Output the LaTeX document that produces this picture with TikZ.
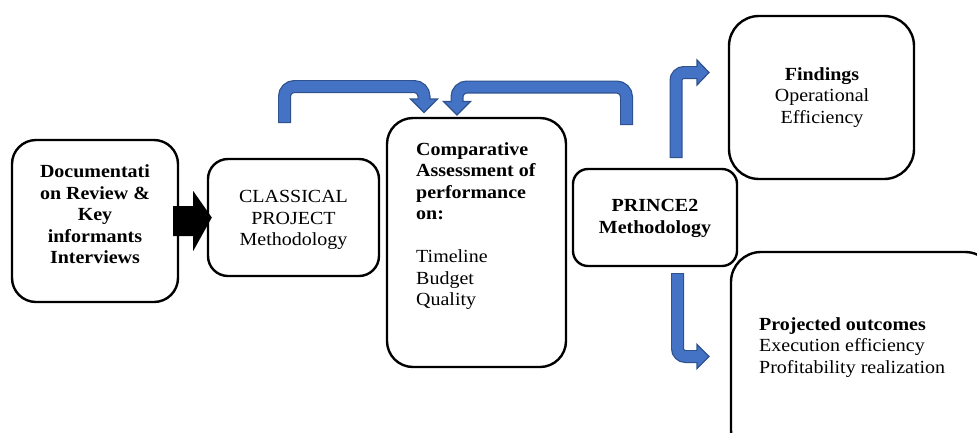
\documentclass[tikz,border=0pt]{standalone}
\usepackage{fontspec}
\setmainfont[FakeStretch=1.08]{Liberation Serif}
\usetikzlibrary{calc}
\definecolor{arrowblue}{HTML}{4472C4}
\definecolor{arrowedge}{HTML}{2F528F}
\tikzset{
  box/.style={draw=black, line width=2.4pt, inner sep=0pt, fill=white},
  txt/.style={inner sep=0pt, font=\fontsize{18.5}{21.5}\selectfont},
  shaftout/.style={draw=arrowedge, line width=13pt},
  shaftin/.style={draw=arrowblue, line width=10.6pt, shorten <=1.2pt},
  headst/.style={fill=arrowblue, draw=arrowedge, line width=1.2pt, line join=miter},
}
\begin{document}
\begin{tikzpicture}[x=1pt, y=-1pt]
\clip (0,0) rectangle (977,432);
\fill[white] (0,0) rectangle (977,432);

% boxes
\node[box, minimum width=166pt, minimum height=162pt, rounded corners=24pt] (A) at (95,221) {};
\node[box, minimum width=171pt, minimum height=117pt, rounded corners=20pt] (B) at (293.5,217.5) {};
\node[box, minimum width=179pt, minimum height=249pt, rounded corners=26pt] (C) at (476.5,242.5) {};
\node[box, minimum width=164pt, minimum height=97pt, rounded corners=15pt] (D) at (655,217.5) {};
\node[box, minimum width=185pt, minimum height=163pt, rounded corners=30pt] (E) at (821.5,97.5) {};
\node[box, minimum width=264pt, minimum height=208pt, rounded corners=30pt] (F) at (863,356) {};

% texts
\node[txt, align=center, font=\fontsize{18.5}{21.5}\selectfont\bfseries] (At) at (A.center) [yshift=6.5pt] {Documentati\\on Review \&\\Key\\informants\\Interviews};
\node[txt, align=center] (Bt) at (B.center) [yshift=-2.5pt] {CLASSICAL\\PROJECT\\Methodology};
\node[txt, align=left, anchor=north west] (Ct) at (416,142) {\textbf{Comparative}\\\textbf{Assessment of}\\\textbf{performance}\\\textbf{on:}\\[21.5pt]Timeline\\Budget\\Quality};
\node[txt, align=center, font=\fontsize{18.5}{21.5}\selectfont\bfseries] (Dt) at (D.center) [yshift=-1pt] {PRINCE2\\Methodology};
\node[txt, align=center] (Et) at (822,97.5) {\textbf{Findings}\\Operational\\Efficiency};
\node[txt, align=left, anchor=north west] (Ft) at (759,317) {\textbf{Projected outcomes}\\Execution efficiency\\Profitability realization};

% black arrow A -> B
\fill[black] ($(A.east)+(-6,-15)$) -- ($(A.east)+(14,-15)$) -- ($(A.east)+(14,-30)$)
  -- ($(B.west)+(5,0)$) -- ($(A.east)+(14,30)$) -- ($(A.east)+(14,15)$)
  -- ($(A.east)+(-6,15)$) -- cycle;

% blue arrows
\coordinate (L0) at (284.5,123);
\coordinate (L1) at (424,101);
\coordinate (R0) at (626.5,125);
\coordinate (R1) at (457,103);
\coordinate (T0) at (676,158);
\coordinate (T1) at (698,72.5);
\coordinate (S0) at (677.5,273);
\coordinate (S1) at (698,356.5);

\draw[shaftout, rounded corners=10pt] (L0) -- (284.5,86.5) -- (424,86.5) -- (L1);
\draw[shaftout, rounded corners=10pt] (R0) -- (626.5,87) -- (457,87) -- (R1);
\draw[shaftout, rounded corners=8pt] (T0) -- (676,72.5) -- (T1);
\draw[shaftout, rounded corners=8pt] (S0) -- (677.5,356.5) -- (S1);

\draw[headst] (410.5,99) -- (437.5,99) -- (424,112.5) -- cycle;
\draw[headst] (443.5,101.5) -- (470.5,101.5) -- (457,115) -- cycle;
\draw[headst] (697,60) -- (697,85) -- (709,72.5) -- cycle;
\draw[headst] (697,344.5) -- (697,368.5) -- (709,356.5) -- cycle;

\draw[shaftin, rounded corners=10pt] (L0) -- (284.5,86.5) -- (424,86.5) -- (L1);
\draw[shaftin, rounded corners=10pt] (R0) -- (626.5,87) -- (457,87) -- (R1);
\draw[shaftin, rounded corners=8pt] (T0) -- (676,72.5) -- (T1);
\draw[shaftin, rounded corners=8pt] (S0) -- (677.5,356.5) -- (S1);
\end{tikzpicture}
\end{document}
